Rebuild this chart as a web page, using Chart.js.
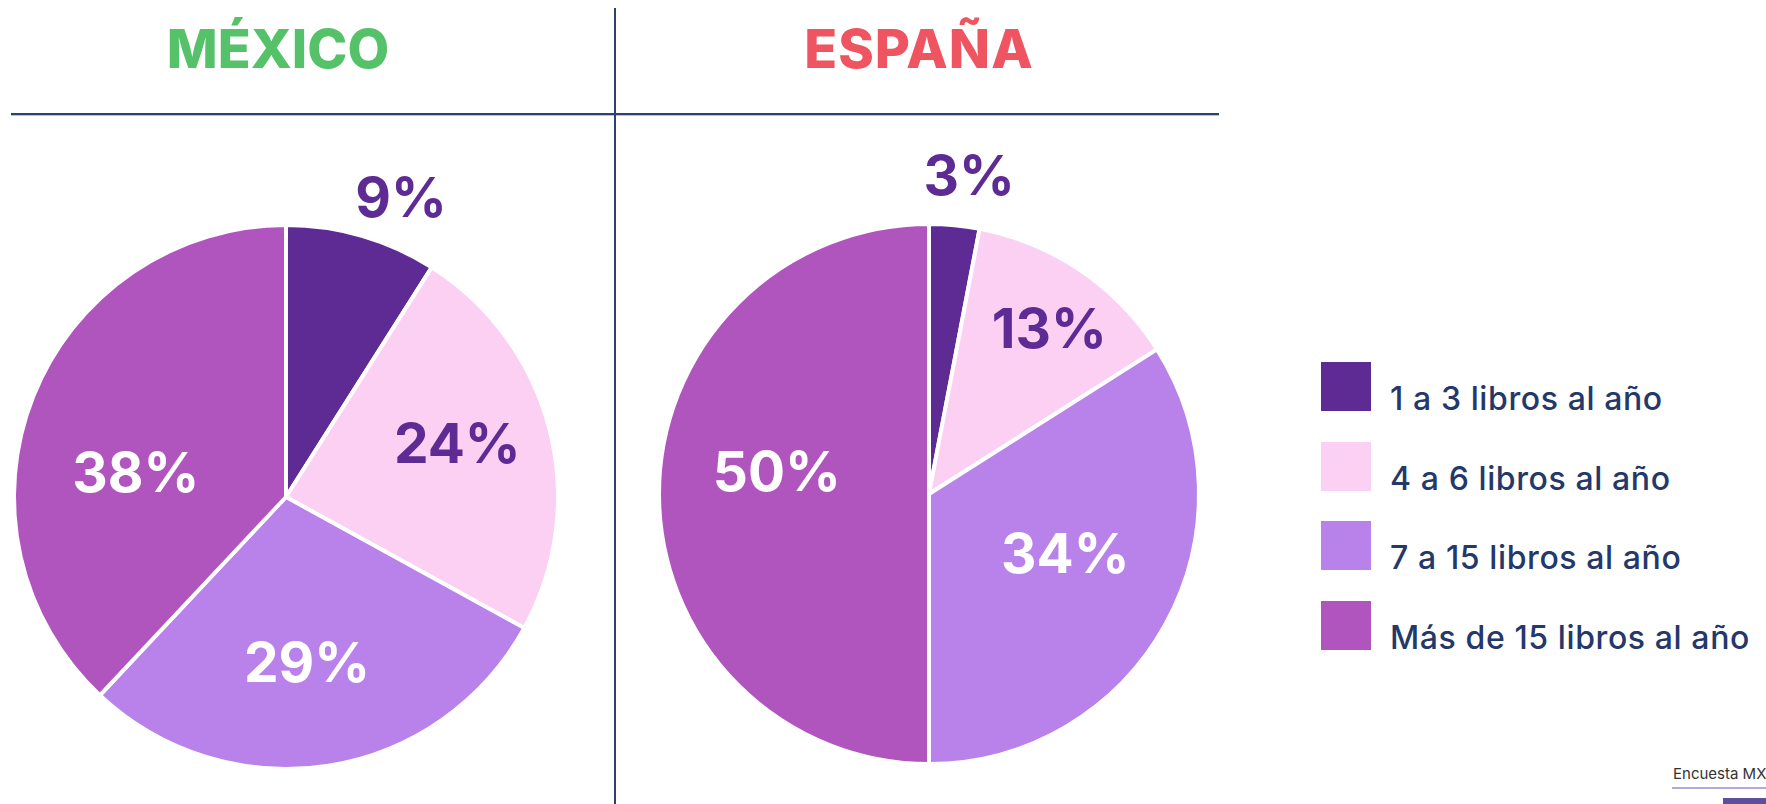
<!DOCTYPE html>
<html>
<head>
<meta charset="utf-8">
<script src="https://cdn.jsdelivr.net/npm/chart.js@4.4.1/dist/chart.umd.min.js"></script>
<style>
  html, body { margin:0; padding:0; background:#fff; }
  #page { position:relative; width:1766px; height:804px; overflow:hidden; background:#fff; font-family: Inter, "Open Sans", sans-serif; }
  canvas { position:absolute; }
  .title { position:absolute; top:22px; font-weight:800; font-size:54px; line-height:54px; transform:translateX(-50%); white-space:nowrap; }
  .hline { position:absolute; left:11px; width:1208px; top:113px; height:2px; background:#2c4170; box-shadow:0 1px 0 #b7c2d9; }
  .vline { position:absolute; left:614px; top:8px; width:2px; height:800px; background:#2c4170; }
  .leg-box { position:absolute; left:1321px; width:50px; height:49px; }
  .leg-txt { position:absolute; left:1390px; font-size:32px; font-weight:500; color:#24386a; line-height:32px; letter-spacing:0.6px; white-space:nowrap; }
  .src { position:absolute; left:1673px; top:764px; font-size:15px; color:#333; white-space:nowrap; }
</style>
</head>
<body>
<div id="page">
  <div class="title" id="t1" style="left:278px;color:#55c26a;"></div>
  <div class="title" id="t2" style="left:919px;color:#ef5560;letter-spacing:1px;"></div>
  <div class="hline"></div>
  <div class="vline"></div>
  <canvas id="mx" width="700" height="700" style="left:-64px;top:147px;"></canvas>
  <canvas id="es" width="700" height="700" style="left:579px;top:144px;"></canvas>
  <div id="legend"></div>
  <div class="src">Encuesta MX</div>
  <div style="position:absolute;left:1672px;top:787px;width:94px;height:2px;background:#b4a8de;"></div>
  <div style="position:absolute;left:1723px;top:798px;width:43px;height:6px;background:#5d4f9e;"></div>
</div>
<script>
// ---- data ----
const titles = ['MÉXICO', 'ESPAÑA'];
const categories = ['1 a 3 libros al año', '4 a 6 libros al año', '7 a 15 libros al año', 'Más de 15 libros al año'];
const mexicoValues = [9, 24, 29, 38];
const espanaValues = [3, 13, 34, 50];

// ---- styles ----
const sliceColors = ['#5e2b95', '#fbd0f3', '#b882ea', '#b055be'];
const labelColors = ['#5e2b95', '#5e2b95', '#ffffff', '#ffffff'];
const mxLabelRadial = [1.18, 0.66, 0.61, 0.56];
const mxLabelAngle = [4.8, -3, 1.7, -12];
const esLabelRadial = [1.19, 0.76, 0.55, 0.57];
const esLabelAngle = [1.8, 1.7, -5.5, 8.7];

document.getElementById('t1').textContent = titles[0];
document.getElementById('t2').textContent = titles[1];

const legend = document.getElementById('legend');
categories.forEach((c, i) => {
  const top = 362 + i * 79.5;
  const b = document.createElement('div');
  b.className = 'leg-box';
  b.style.top = top + 'px';
  b.style.background = sliceColors[i];
  legend.appendChild(b);
  const t = document.createElement('div');
  t.className = 'leg-txt';
  t.style.top = (top + 21) + 'px';
  t.textContent = c;
  legend.appendChild(t);
});

const pctLabels = {
  id: 'pctLabels',
  afterDatasetsDraw(chart, args, opts) {
    const ctx = chart.ctx;
    const meta = chart.getDatasetMeta(0);
    const data = chart.data.datasets[0].data;
    ctx.save();
    ctx.font = '700 55px Inter, sans-serif';
    ctx.textAlign = 'center';
    ctx.textBaseline = 'alphabetic';
    meta.data.forEach((arc, i) => {
      const p = arc.getProps(['x', 'y', 'startAngle', 'endAngle', 'outerRadius'], true);
      const mid = (p.startAngle + p.endAngle) / 2 + opts.angle[i] * Math.PI / 180;
      const r = p.outerRadius * opts.radial[i];
      const x = p.x + Math.cos(mid) * r;
      const y = p.y + Math.sin(mid) * r;
      ctx.fillStyle = labelColors[i];
      ctx.fillText(data[i] + '%', x, y + 0.727 * 55 / 2);
    });
    ctx.restore();
  }
};

function makePie(id, values, radial, angle, radius) {
  return new Chart(document.getElementById(id), {
    type: 'pie',
    data: {
      labels: categories,
      datasets: [{
        data: values,
        backgroundColor: sliceColors,
        borderColor: '#ffffff',
        borderWidth: 4,
        borderAlign: 'center'
      }]
    },
    options: {
      responsive: false,
      animation: false,
      events: [],
      radius: radius,
      layout: { padding: 0 },
      plugins: {
        legend: { display: false },
        tooltip: { enabled: false },
        pctLabels: { radial: radial, angle: angle }
      }
    },
    plugins: [pctLabels]
  });
}

makePie('mx', mexicoValues, mxLabelRadial, mxLabelAngle, 272);
makePie('es', espanaValues, esLabelRadial, esLabelAngle, 270);
</script>
</body>
</html>
